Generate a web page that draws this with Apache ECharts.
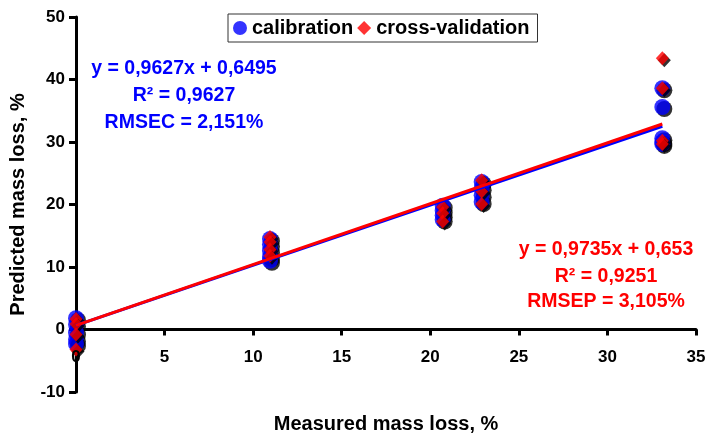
<!DOCTYPE html>
<html>
<head>
<meta charset="utf-8">
<script src="https://cdn.jsdelivr.net/npm/echarts@6/dist/echarts.min.js"></script>
<style>
html,body{margin:0;padding:0;background:#fff;}
#chart{width:715px;height:435px;}
</style>
</head>
<body>
<div id="chart"></div>
<script>
// Calibration points (blue circles)
var calX = [0, 0, 0, 0, 0, 10.95, 10.95, 10.95, 10.95, 10.95, 20.7, 20.7, 20.7, 20.7, 22.9, 22.9, 22.9, 22.9, 33.1, 33.1, 33.1, 33.1, 33.1];
var calY = [1.8, 0.8, -0.5, -1.6, -2.3, 14.5, 13.6, 12.6, 11.6, 11.0, 19.8, 19.0, 18.3, 17.6, 23.6, 22.6, 21.5, 20.4, 38.6, 35.6, 30.6, 30.0, 29.7];
// Cross-validation points (red diamonds)
var cvX = [0, 0, 0, 0, 10.95, 10.95, 10.95, 10.95, 20.7, 20.7, 20.7, 22.9, 22.9, 22.9, 33.1, 33.1, 33.1, 33.1];
var cvY = [1.7, 0.9, -0.8, -3.2, 14.8, 14.0, 12.8, 11.8, 19.6, 18.6, 17.3, 23.9, 22.1, 20.1, 43.4, 38.6, 30.2, 29.7];
// Trend line end points
var lineX = [0, 33.1];
var calLineY = [0.65, 32.52];
var cvLineY = [0.65, 32.88];
// Labels
var seriesNames = ['calibration', 'cross-validation'];
var calText = ['y = 0,9627x + 0,6495', 'R\u00b2 = 0,9627', 'RMSEC = 2,151%'];
var cvText = ['y = 0,9735x + 0,653', 'R\u00b2 = 0,9251', 'RMSEP = 3,105%'];
var xTitle = 'Measured mass loss, %';
var yTitle = 'Predicted mass loss, %';

function zip(a, b) { return a.map(function (v, i) { return [v, b[i]]; }); }

var FONT = 'Liberation Sans';
var chart = echarts.init(document.getElementById('chart'), null, {renderer: 'canvas'});

var shadow = {shadowColor: '#000', shadowBlur: 0, shadowOffsetX: 2, shadowOffsetY: 2};

function txt(t, x, y, color, size) {
  return {
    type: 'text', x: x, y: y, z: 100,
    style: {text: t, fill: color, font: 'bold ' + size + 'px "' + FONT + '"', textAlign: 'center', textVerticalAlign: 'middle'}
  };
}
function eqGraphics(lines, cx, ys, color) {
  return lines.map(function (t, i) { return txt(t, cx, ys[i], color, 19.5); });
}

var labelStyle = {fontFamily: FONT, fontWeight: 'bold', fontSize: 17, color: '#000'};

var option = {
  animation: false,
  backgroundColor: '#fff',
  textStyle: {fontFamily: FONT},
  grid: [
    {left: 76, right: 19, top: 17, bottom: 43, containLabel: false, outerBoundsMode: 'none'},
    {left: 76, right: 19, top: 330, bottom: 97, containLabel: false, outerBoundsMode: 'none', show: false}
  ],
  legend: {
    data: seriesNames,
    left: 228, top: 14,
    padding: [4, 8, 4, 5],
    itemGap: 4, itemWidth: 14, itemHeight: 14,
    borderColor: '#333', borderWidth: 1, borderRadius: 0,
    backgroundColor: '#fff',
    textStyle: {fontFamily: FONT, fontWeight: 'bold', fontSize: 20, color: '#000'},
    itemStyle: {shadowBlur: 0, shadowOffsetX: 0, shadowOffsetY: 0, shadowColor: 'rgba(0,0,0,0)'}
  },
  xAxis: [{
    gridIndex: 0, type: 'value', min: 0, max: 35, interval: 5,
    axisLine: {show: true, onZero: true, lineStyle: {color: '#000', width: 3}},
    axisTick: {show: true, length: 6, lineStyle: {color: '#000', width: 3}},
    axisLabel: {show: true, color: 'rgba(0,0,0,0)', fontSize: 1},
    splitLine: {show: false}
  }, {
    gridIndex: 1, type: 'value', min: 0, max: 35, interval: 5, z: 10,
    axisLine: {show: false, onZero: false},
    axisTick: {show: false},
    axisLabel: Object.assign({margin: 11, hideOverlap: false}, labelStyle),
    splitLine: {show: false}
  }],
  yAxis: [{
    gridIndex: 0, type: 'value', min: -10, max: 50, interval: 10,
    name: yTitle, nameLocation: 'middle', nameGap: 48, nameRotate: 90,
    nameTextStyle: {fontFamily: FONT, fontWeight: 'bold', fontSize: 20, color: '#000'},
    axisLine: {show: true, onZero: false, lineStyle: {color: '#000', width: 3}},
    axisTick: {show: true, length: 7, lineStyle: {color: '#000', width: 3}},
    axisLabel: Object.assign({margin: 11}, labelStyle),
    splitLine: {show: false}
  }, {
    gridIndex: 1, type: 'value', min: 0, max: 1, show: false
  }],
  series: [
    {
      name: seriesNames[0], type: 'scatter', symbol: 'circle', symbolSize: 16, z: 2,
      xAxisIndex: 0, yAxisIndex: 0,
      itemStyle: Object.assign({color: '#0000ff'}, shadow),
      data: zip(calX, calY)
    },
    {
      name: seriesNames[1], type: 'scatter', symbol: 'diamond', symbolSize: [13, 14], z: 3,
      xAxisIndex: 0, yAxisIndex: 0,
      itemStyle: Object.assign({color: '#ff0000'}, shadow),
      data: zip(cvX, cvY)
    },
    {
      name: 'cal-line', type: 'line', symbol: 'none', z: 4,
      xAxisIndex: 0, yAxisIndex: 0,
      lineStyle: {color: '#0000ff', width: 3},
      data: zip(lineX, calLineY)
    },
    {
      name: 'cv-line', type: 'line', symbol: 'none', z: 5,
      xAxisIndex: 0, yAxisIndex: 0,
      lineStyle: {color: '#ff0000', width: 3},
      data: zip(lineX, cvLineY)
    }
  ],
  graphic: eqGraphics(calText, 184, [69, 96, 123], '#0000ff')
    .concat(eqGraphics(cvText, 606, [250, 277, 302], '#ff0000'))
    .concat([txt(xTitle, 386, 424, '#000', 20)])
};
chart.setOption(option);
</script>
</body>
</html>
